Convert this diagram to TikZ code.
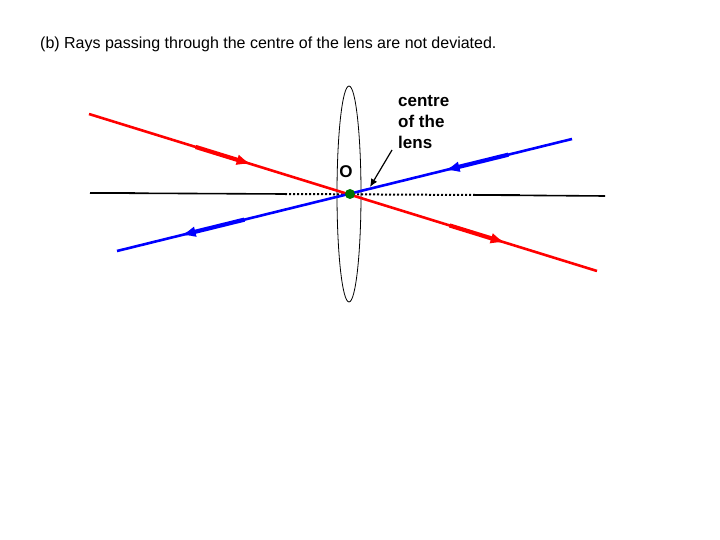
\documentclass[tikz,border=0pt]{standalone}
\usepackage{fontspec}
\setmainfont{Liberation Sans}
\usetikzlibrary{arrows.meta,calc,shapes.geometric}
\begin{document}
\begin{tikzpicture}[x=1pt,y=-1pt,
  ray/.style={line width=2.6pt},
  thk/.style={line width=4.2pt},
  lbl/.style={font=\bfseries\fontsize{17}{19}\selectfont,inner sep=0pt}]
\useasboundingbox (0,0) rectangle (720,540);
% axis
\coordinate (a1) at (90,193); \coordinate (a2) at (285,194);
\coordinate (a3) at (475,195); \coordinate (a4) at (605,196);
\draw[line width=1.6pt] (a1) -- (a2);
\draw[line width=2pt,dotted] (a2) -- (a3);
\draw[line width=1.6pt] (a3) -- (a4);
\draw[line width=2.6pt] (a1) -- (135,193);
\draw[line width=2.6pt] (a3) -- (520,195);
% lens
\node (lens) [draw,ellipse,minimum width=24pt,minimum height=216pt,inner sep=0pt,line width=0.8pt] at (349,194) {};
% rays
\coordinate (r1) at (89,114); \coordinate (r2) at (597,271);
\coordinate (b1) at (572,139); \coordinate (b2) at (117,251);
\draw[red,ray] (r1) -- (r2);
\draw[blue,ray] (b1) -- (b2);
\draw[red,thk,-{Latex[length=15pt,width=11pt]}] ($(r1)!0.21!(r2)$) -- ($(r1)!0.32!(r2)$);
\draw[red,thk,-{Latex[length=15pt,width=11pt]}] ($(r1)!0.71!(r2)$) -- ($(r1)!0.82!(r2)$);
\draw[blue,thk,-{Latex[length=15pt,width=11pt]}] ($(b1)!0.14!(b2)$) -- ($(b1)!0.28!(b2)$);
\draw[blue,thk,-{Latex[length=15pt,width=11pt]}] ($(b1)!0.72!(b2)$) -- ($(b1)!0.86!(b2)$);
\node (dot) [circle,fill=green!45!black,minimum size=10pt,inner sep=0pt] at (350,194) {};
% labels
\node (title) [lbl,anchor=west,font=\fontsize{16}{19}\selectfont] at (40,44) {(b) Rays passing through the centre of the lens are not deviated.};
\node (o) [lbl] at (346,172) {O};
\node (cl) [lbl,align=left,anchor=north west,font=\fontsize{17}{21}\selectfont\bfseries] at (398,95) {centre\\of the\\lens};
\coordinate (ct) at (392,150);
\draw[-{Latex[length=8pt,width=7pt]},line width=1.2pt] (ct) -- (370,187);
\end{tikzpicture}
\end{document}
